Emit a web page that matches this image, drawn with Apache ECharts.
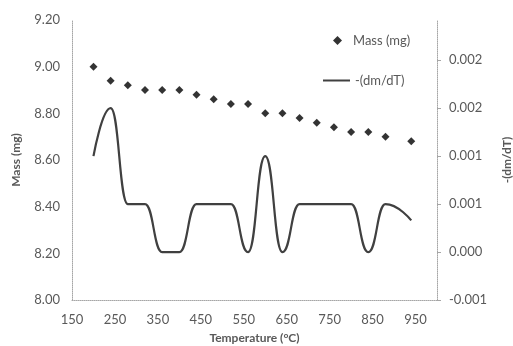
<!DOCTYPE html>
<html>
<head>
<meta charset="utf-8">
<script src="https://cdn.jsdelivr.net/npm/echarts@6/dist/echarts.min.js"></script>
<style>
  html, body { margin: 0; padding: 0; background: #fff; }
  #chart { width: 513px; height: 346px; }
</style>
</head>
<body>
<div id="chart"></div>
<script>
// values
const temps = [200, 240, 280, 320, 360, 400, 440, 480, 520, 560, 600, 640, 680, 720, 760, 800, 840, 880, 940];
const massValues = [9.00, 8.94, 8.92, 8.90, 8.90, 8.90, 8.88, 8.86, 8.84, 8.84, 8.80, 8.80, 8.78, 8.76, 8.74, 8.72, 8.72, 8.70, 8.68];
const dmdtValues = [0.001, 0.0015, 0.0005, 0.0005, 0, 0, 0.0005, 0.0005, 0.0005, 0, 0.001, 0, 0.0005, 0.0005, 0.0005, 0.0005, 0, 0.0005, 0.00033];
const xTicks = { min: 150, max: 1000, step: 100 };
const massTicks = { min: 8.0, max: 9.2, step: 0.2 };
const dmdtTicks = { min: -0.0005, max: 0.00242, step: 0.0005 };

const textColor = "#595959";
const axisColor = "#a6a6a6";
const font = "Lato, 'Open Sans', sans-serif";

const chart = echarts.init(document.getElementById("chart"));

const dottedAxis = { show: true, onZero: false, lineStyle: { color: axisColor, type: "dotted", width: 1 } };

chart.setOption({
    animation: false,
    textStyle: { fontFamily: font },
    grid: { left: 72, right: 76, top: 20, bottom: 46, containLabel: false, outerBoundsMode: "none" },
    legend: [
        {
            data: ["Mass (mg)"],
            left: 333, top: 34, padding: 0,
            itemWidth: 9, itemHeight: 9,
            textStyle: { color: textColor, fontSize: 13, fontFamily: font, padding: [0, 0, 0, 6] },
        },
        {
            data: [{ name: "-(dm/dT)", icon: "rect" }],
            left: 323, top: 74, padding: 0,
            itemWidth: 27, itemHeight: 2,
            textStyle: { color: textColor, fontSize: 13, fontFamily: font },
        },
    ],
    xAxis: {
        type: "value",
        min: xTicks.min, max: xTicks.max, interval: xTicks.step,
        name: "Temperature (°C)",
        nameLocation: "middle", nameGap: 32,
        nameTextStyle: { color: textColor, fontWeight: "bold", fontSize: 12, fontFamily: font },
        axisLine: dottedAxis,
        axisTick: { show: false },
        splitLine: { show: false },
        axisLabel: { color: textColor, fontSize: 13, margin: 13, showMaxLabel: false },
    },
    yAxis: [
        {
            type: "value", position: "left",
            min: massTicks.min, max: massTicks.max, interval: massTicks.step,
            name: "Mass (mg)",
            nameLocation: "middle", nameGap: 50, nameRotate: 90,
            nameTextStyle: { color: textColor, fontWeight: "bold", fontSize: 12, fontFamily: font },
            axisLine: dottedAxis,
            axisTick: { show: false },
            splitLine: { show: false },
            axisLabel: { color: textColor, fontSize: 13, margin: 12, formatter: (v) => v.toFixed(2) },
        },
        {
            type: "value", position: "right",
            min: dmdtTicks.min, max: dmdtTicks.max, interval: dmdtTicks.step,
            name: "-(dm/dT)",
            nameLocation: "middle", nameGap: 64, nameRotate: 90,
            nameTextStyle: { color: textColor, fontWeight: "bold", fontSize: 12, fontFamily: font },
            axisLine: dottedAxis,
            axisTick: { show: true, length: 4, lineStyle: { color: axisColor } },
            splitLine: { show: false },
            axisLabel: {
                color: textColor, fontSize: 13, margin: 12, showMaxLabel: false,
                formatter: (v) => v.toFixed(3),
            },
        },
    ],
    series: [
        {
            name: "Mass (mg)",
            type: "scatter",
            yAxisIndex: 0,
            symbol: "diamond",
            symbolSize: 8,
            itemStyle: { color: "#000" },
            data: temps.map((t, i) => [t, massValues[i]]),
        },
        {
            name: "-(dm/dT)",
            type: "line",
            yAxisIndex: 1,
            smooth: 0.5,
            smoothMonotone: "x",
            symbol: "none",
            lineStyle: { color: "#404040", width: 2.2 },
            itemStyle: { color: "#404040" },
            data: temps.map((t, i) => [t, dmdtValues[i]]),
        },
    ],
});
</script>
</body>
</html>
